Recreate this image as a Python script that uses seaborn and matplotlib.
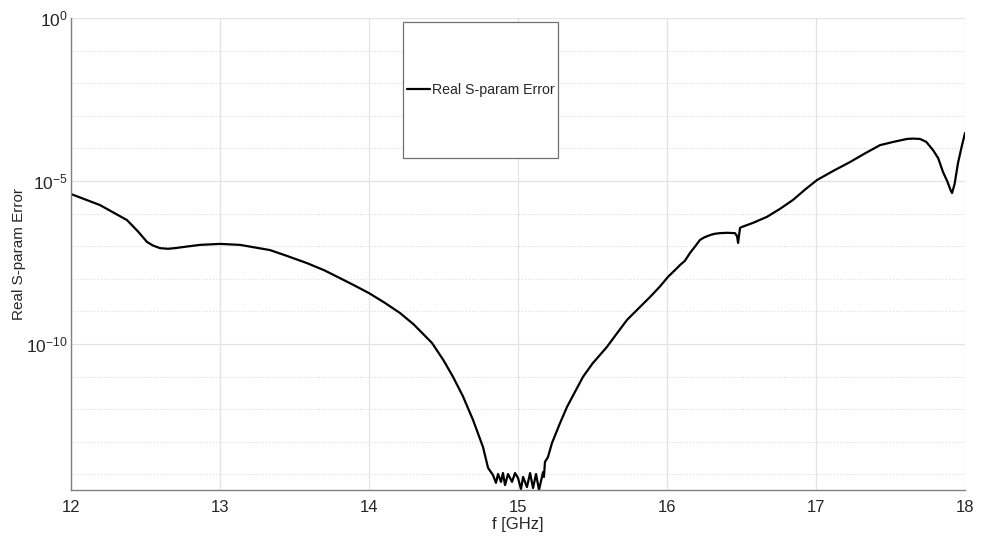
import numpy as np
import pandas as pd
import matplotlib
matplotlib.use("Agg")
import matplotlib.pyplot as plt
import matplotlib.ticker as mticker
from matplotlib.patches import Rectangle
import seaborn as sns

# Frequency axis [GHz] and error (as log10 exponent)
freq_ghz = [12.000, 12.195, 12.376, 12.450, 12.510, 12.550, 12.597, 12.650, 12.698,
            12.780, 12.866, 13.000, 13.134, 13.336, 13.450, 13.584, 13.700, 13.805,
            13.900, 14.000, 14.100, 14.208, 14.300, 14.423, 14.500, 14.564, 14.630,
            14.698, 14.765, 14.799, 14.832, 14.852, 14.866, 14.886, 14.899, 14.913,
            14.933, 14.960, 14.980, 15.000, 15.020, 15.034, 15.060, 15.081, 15.101,
            15.121, 15.141, 15.168, 15.174, 15.181, 15.201, 15.228, 15.280, 15.329,
            15.436, 15.500, 15.597, 15.660, 15.732, 15.800, 15.886, 15.950, 16.007,
            16.050, 16.087, 16.120, 16.154, 16.190, 16.221, 16.250, 16.289, 16.320,
            16.356, 16.400, 16.456, 16.470, 16.477, 16.490, 16.503, 16.580, 16.671,
            16.760, 16.846, 16.930, 17.007, 17.120, 17.228, 17.330, 17.430, 17.520,
            17.611, 17.650, 17.698, 17.740, 17.785, 17.820, 17.852, 17.880, 17.905,
            17.913, 17.930, 17.953, 17.975, 18.000]
err_log10 = [-5.40, -5.74, -6.20, -6.55, -6.87, -6.98, -7.06, -7.08, -7.06,
             -7.01, -6.96, -6.93, -6.96, -7.12, -7.30, -7.52, -7.74, -7.98,
             -8.20, -8.44, -8.72, -9.05, -9.40, -9.97, -10.50, -11.01, -11.60,
             -12.33, -13.16, -13.80, -14.02, -14.26, -13.99, -14.23, -13.96, -14.33,
             -13.99, -14.23, -13.96, -14.11, -14.45, -14.08, -14.39, -13.96, -14.42,
             -13.99, -14.48, -13.93, -14.08, -13.62, -13.47, -13.04, -12.45, -11.93,
             -11.01, -10.60, -10.09, -9.70, -9.26, -8.95, -8.56, -8.25, -7.94,
             -7.75, -7.58, -7.45, -7.21, -7.00, -6.81, -6.73, -6.66, -6.62,
             -6.60, -6.59, -6.60, -6.69, -6.90, -6.44, -6.41, -6.28, -6.10,
             -5.85, -5.58, -5.25, -4.97, -4.68, -4.42, -4.15, -3.90, -3.80,
             -3.71, -3.70, -3.71, -3.80, -4.05, -4.30, -4.72, -5.00, -5.30,
             -5.37, -5.10, -4.45, -4.00, -3.53]
x_ticks = [12, 13, 14, 15, 16, 17, 18]
series_name = "Real S-param Error"

df = pd.DataFrame({"f": freq_ghz, "err": 10.0 ** np.array(err_log10)})

sns.set_theme(style="white")
plt.rcParams["font.family"] = ["Liberation Sans", "DejaVu Sans"]
plt.rcParams["axes.unicode_minus"] = False

fig = plt.figure(figsize=(9.81, 5.41), dpi=100)
ax = fig.add_axes([71 / 981, 1 - 490 / 541, (965 - 71) / 981, (490 - 18) / 541])

sns.lineplot(data=df, x="f", y="err", color="black", linewidth=1.6,
             estimator=None, label=series_name, ax=ax)

ax.set_yscale("log")
ax.set_xlim(12, 18)
ax.set_ylim(10 ** -14.48, 1)
ax.set_xticks(x_ticks)
ax.set_xticklabels([str(t) for t in x_ticks])
ax.yaxis.set_major_locator(mticker.FixedLocator([1e-10, 1e-5, 1e0]))
ax.yaxis.set_major_formatter(mticker.LogFormatterSciNotation())
ax.yaxis.set_minor_locator(mticker.FixedLocator(
    [10.0 ** k for k in range(-14, 1) if k % 5 != 0]))
ax.yaxis.set_minor_formatter(mticker.NullFormatter())

ax.grid(which="major", color="#e3e3e3", linewidth=0.9, linestyle="-")
ax.grid(which="minor", axis="y", color="#dcdcdc", linewidth=0.8, linestyle=":")
ax.set_axisbelow(True)

for side in ["top", "right"]:
    ax.spines[side].set_visible(False)
for side in ["left", "bottom"]:
    ax.spines[side].set_color("#808080")
    ax.spines[side].set_linewidth(1.0)

ax.tick_params(which="both", direction="in", colors="#808080",
               labelcolor="#262626")
ax.tick_params(axis="x", labelsize=12, pad=7)
ax.tick_params(axis="y", labelsize=12.5, pad=2)
ax.tick_params(which="major", length=5, width=0.8)
ax.tick_params(which="minor", length=3, width=0.6)

ax.set_xlabel("f [GHz]", fontsize=12, color="#262626", labelpad=2)
ax.set_ylabel(series_name, fontsize=11, color="#262626")
ax.yaxis.set_label_coords(-0.050, 0.5)

# legend: large box like the original, entry centered inside
box = Rectangle((403 / 981, 1 - 158 / 541), 155 / 981, 136 / 541,
                transform=fig.transFigure, facecolor="white",
                edgecolor="#707070", linewidth=0.9, zorder=3, clip_on=False)
ax.add_patch(box)
leg = ax.legend(loc="center", bbox_to_anchor=(481 / 981, 1 - 90 / 541),
                bbox_transform=fig.transFigure, frameon=False, fontsize=10.2,
                handlelength=1.6, handletextpad=0.2)
leg.set_zorder(5)

fig.savefig("out.png", dpi=100)
